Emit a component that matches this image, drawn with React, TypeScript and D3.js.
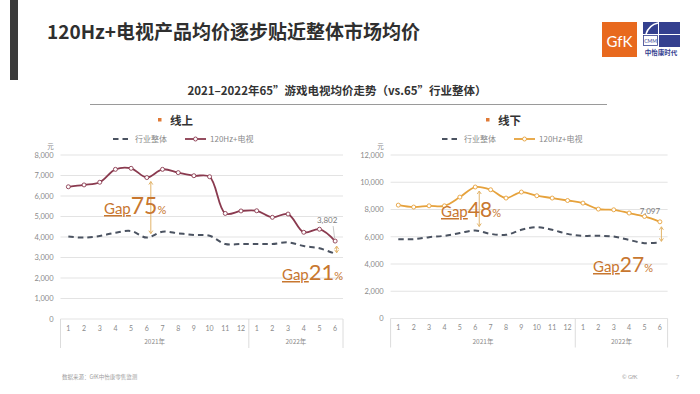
import React, { useEffect, useRef } from "react";
import * as d3 from "d3";

// months along the x axis (2021.1-12, 2022.1-6)
const months = ["1", "2", "3", "4", "5", "6", "7", "8", "9", "10", "11", "12", "1", "2", "3", "4", "5", "6"];
const years = ["2021年", "2022年"];

// 线上 (online), 元
const online120 = [6450, 6540, 6670, 7300, 7350, 6900, 7300, 7140, 6990, 6940, 5150, 5270, 5280, 4960, 5120, 4230, 4380, 3802];
const onlineAll = [4020, 3970, 4050, 4210, 4290, 3970, 4260, 4180, 4100, 4060, 3660, 3660, 3660, 3660, 3740, 3560, 3450, 3180];

// 线下 (offline), 元
const offline120 = [8320, 8180, 8270, 8270, 8910, 9650, 9450, 8840, 9280, 9010, 8840, 8660, 8470, 8030, 7980, 7740, 7490, 7097];
const offlineAll = [5820, 5820, 5970, 6070, 6270, 6460, 6210, 6140, 6510, 6710, 6510, 6210, 6070, 6070, 6010, 5770, 5530, 5590];

const gapLabels = ["75", "21", "48", "27"];

const CJK = "'Noto Sans CJK SC', 'Noto Sans', sans-serif";
const LAT = "Lato, 'Open Sans', sans-serif";
const GAP = "#c8772f";
const ARROW = "#e2b46a";

function drawPanel(svg, p) {
    const g = svg.append("g");
    const x = d3.scaleBand().domain(d3.range(months.length)).range([p.x0, p.x1]);
    const y = d3.scaleLinear().domain([0, p.max]).range([p.yb, p.yt]);
    const cx = i => x(i) + x.bandwidth() / 2;

    // grid
    const ticks = d3.range(0, p.max + 1, p.step);
    g.selectAll(".grid").data(ticks).enter().append("line")
        .attr("x1", p.x0).attr("x2", p.x1)
        .attr("y1", d => y(d)).attr("y2", d => y(d))
        .attr("stroke", "#e3e3e3").attr("stroke-width", 1);

    const yAxis = d3.axisLeft(y).tickValues(ticks).tickSize(0).tickPadding(7).tickFormat(d3.format(","));
    const ya = g.append("g").attr("transform", `translate(${p.x0},0)`).call(yAxis);
    ya.select(".domain").remove();
    ya.selectAll("text").attr("fill", "#8a8a8a").style("font-family", LAT).style("font-size", "7.5px");

    g.append("text").attr("x", p.x0 - 10).attr("y", p.yt - 6).attr("text-anchor", "middle")
        .attr("fill", "#8a8a8a").style("font-family", CJK).style("font-size", "6.5px").text("元");

    // x axis: month labels, year groups
    const xAxis = d3.axisBottom(x).tickSize(0).tickPadding(7).tickFormat(i => months[i]);
    const xa = g.append("g").attr("transform", `translate(0,${p.yb})`).call(xAxis);
    xa.select(".domain").remove();
    xa.selectAll("text").attr("fill", "#8a8a8a").style("font-family", LAT).style("font-size", "7px");

    const sep = [p.x0, x(12), p.x1];
    g.selectAll(".sep").data(sep).enter().append("line")
        .attr("x1", d => d).attr("x2", d => d)
        .attr("y1", p.yb).attr("y2", p.yb + 29)
        .attr("stroke", "#dcdcdc").attr("stroke-width", 1);
    g.selectAll(".yr").data(years).enter().append("text")
        .attr("x", (d, i) => (sep[i] + sep[i + 1]) / 2)
        .attr("y", p.yb + 25)
        .attr("text-anchor", "middle").attr("fill", "#8a8a8a")
        .style("font-family", CJK).style("font-size", "6.5px").text(d => d);

    // lines
    const line = d3.line().x((d, i) => cx(i)).y(d => y(d)).curve(d3.curveCatmullRom.alpha(0.5));
    g.append("path").attr("d", line(p.all)).attr("fill", "none")
        .attr("stroke", "#4b5361").attr("stroke-width", 2).attr("stroke-dasharray", "5.5,4");
    g.append("path").attr("d", line(p.tv)).attr("fill", "none")
        .attr("stroke", p.color).attr("stroke-width", 1.8);
    g.selectAll(".pt").data(p.tv).enter().append("circle")
        .attr("cx", (d, i) => cx(i)).attr("cy", d => y(d)).attr("r", 2)
        .attr("fill", "#fff").attr("stroke", p.color).attr("stroke-width", 0.9);

    // header + legend
    g.append("rect").attr("x", p.head - 17).attr("y", 118).attr("width", 3.5).attr("height", 3.5).attr("fill", "#e07a36");
    g.append("text").attr("x", p.head - 5).attr("y", 124.5).attr("fill", "#333")
        .style("font-family", CJK).style("font-size", "11.5px").style("font-weight", 700).text(p.title);

    g.append("line").attr("x1", p.lg).attr("x2", p.lg + 17).attr("y1", 139).attr("y2", 139)
        .attr("stroke", "#4b5361").attr("stroke-width", 2).attr("stroke-dasharray", "5.5,4");
    g.append("text").attr("x", p.lg + 22).attr("y", 142).attr("fill", "#8a8a8a")
        .style("font-family", CJK).style("font-size", "8px").text("行业整体");
    const l2 = p.lg + 72;
    g.append("line").attr("x1", l2).attr("x2", l2 + 21).attr("y1", 139).attr("y2", 139)
        .attr("stroke", p.color).attr("stroke-width", 1.8);
    g.append("circle").attr("cx", l2 + 10.5).attr("cy", 139).attr("r", 2)
        .attr("fill", "#fff").attr("stroke", p.color).attr("stroke-width", 0.9);
    g.append("text").attr("x", l2 + 25).attr("y", 142).attr("fill", "#8a8a8a")
        .style("font-family", CJK).style("font-size", "8px").text("120Hz+电视");

    // end value label
    const last = months.length - 1;
    g.append("text").attr("x", cx(last) - 8 + p.lblDx).attr("y", y(p.tv[last]) - p.lblDy)
        .attr("text-anchor", "middle").attr("fill", "#7a7a7a")
        .style("font-family", LAT).style("font-size", "8px").text(d3.format(",")(p.tv[last]));
    if (p.leader) {
        g.append("line").attr("x1", cx(last) - 2).attr("x2", cx(last) - 0.5)
            .attr("y1", y(p.tv[last]) - 15).attr("y2", y(p.tv[last]) - 2.5)
            .attr("stroke", "#b0b0b0").attr("stroke-width", 0.7);
    }

    // gap arrows
    const arrow = (ax, ya1, ya2) => {
        g.append("line").attr("x1", ax).attr("x2", ax).attr("y1", ya1).attr("y2", ya2)
            .attr("stroke", ARROW).attr("stroke-width", 1);
        [[ya1, 1], [ya2, -1]].forEach(([yy, s]) => {
            g.append("path").attr("d", `M${ax - 2},${yy + s * 3}L${ax},${yy}L${ax + 2},${yy + s * 3}`)
                .attr("fill", "none").attr("stroke", ARROW).attr("stroke-width", 1);
        });
    };
    const gx = cx(5) + 4;
    arrow(gx, y(p.tv[5]) + 4, y(p.all[5]) - 4);
    const ex = cx(last) + 1.5;
    arrow(ex, y(p.tv[last]) + 5, y(p.all[last]) - 1);

    const gapText = (tx, ty, num, big) => {
        const t = g.append("text").attr("x", tx).attr("y", ty).attr("fill", GAP).style("font-family", LAT);
        t.append("tspan").style("font-size", "15px").attr("text-decoration", "underline").text("Gap");
        t.append("tspan").style("font-size", big + "px").text(num);
        t.append("tspan").style("font-size", "11px").text("%");
    };
    gapText(p.g1[0], p.g1[1], p.gaps[0], p.g1[2]);
    gapText(p.g2[0], p.g2[1], p.gaps[1], p.g2[2]);
}

const App = () => {
    const ref = useRef(null);

    useEffect(() => {
        document.body.style.margin = "0";
        const svg = d3.select(ref.current);
        svg.selectAll("*").remove();

        // page header
        svg.append("rect").attr("x", 10).attr("y", 0).attr("width", 8).attr("height", 80).attr("fill", "#3b3b3b");
        svg.append("text").attr("x", 47).attr("y", 39).attr("fill", "#2f2f2f")
            .style("font-family", CJK).style("font-size", "19px").style("font-weight", 700)
            .text("120Hz+电视产品均价逐步贴近整体市场均价");

        // logos
        svg.append("rect").attr("x", 602).attr("y", 22).attr("width", 35).attr("height", 35).attr("fill", "#e8691e");
        svg.append("text").attr("x", 619.5).attr("y", 47).attr("text-anchor", "middle").attr("fill", "#fff")
            .style("font-family", LAT).style("font-size", "15px").text("GfK");
        const b = svg.append("g").attr("transform", "translate(643,22)");
        b.append("rect").attr("width", 15).attr("height", 12).attr("fill", "#34408f");
        b.append("path").attr("d", "M3,12 Q6,3 15,1").attr("fill", "none").attr("stroke", "#fff").attr("stroke-width", 1.5);
        b.append("rect").attr("x", 16).attr("width", 21).attr("height", 12).attr("fill", "#34408f");
        b.append("rect").attr("x", 16).attr("y", 13).attr("width", 21).attr("height", 12).attr("fill", "#34408f");
        b.append("rect").attr("x", 0.5).attr("y", 13.5).attr("width", 14).attr("height", 10).attr("fill", "#fff")
            .attr("stroke", "#34408f").attr("stroke-width", 0.8);
        b.append("text").attr("x", 7.5).attr("y", 21).attr("text-anchor", "middle").attr("fill", "#34408f")
            .style("font-family", LAT).style("font-size", "5px").text("CMM");
        b.append("text").attr("x", 18).attr("y", 33).attr("text-anchor", "middle").attr("fill", "#34408f")
            .style("font-family", CJK).style("font-size", "6.5px").style("font-weight", 700).text("中怡康时代");

        // chart title
        svg.append("text").attr("x", 337).attr("y", 95).attr("text-anchor", "middle").attr("fill", "#333")
            .style("font-family", CJK).style("font-size", "11.5px").style("font-weight", 700)
            .text("2021–2022年65\u201D游戏电视均价走势（vs.65\u201D行业整体）");
        svg.append("line").attr("x1", 90).attr("x2", 607).attr("y1", 104.5).attr("y2", 104.5)
            .attr("stroke", "#9a9a9a").attr("stroke-width", 1.2);

        drawPanel(svg, {
            x0: 60.5, x1: 343, yt: 155, yb: 319, max: 8000, step: 1000,
            tv: online120, all: onlineAll, color: "#8a3a4f", title: "线上",
            head: 175, lg: 113, leader: true, lblDx: 0, lblDy: 18,
            gaps: [gapLabels[0], gapLabels[1]], g1: [104, 214, 23], g2: [282, 280, 22]
        });
        drawPanel(svg, {
            x0: 390.6, x1: 667.6, yt: 155, yb: 318.5, max: 12000, step: 2000,
            tv: offline120, all: offlineAll, color: "#e6a23c", title: "线下",
            head: 503, lg: 442, leader: false, lblDx: -2, lblDy: 8,
            gaps: [gapLabels[2], gapLabels[3]], g1: [441, 217, 21], g2: [593, 272, 21]
        });

        // footer
        svg.append("text").attr("x", 62).attr("y", 379).attr("fill", "#a0a0a0")
            .style("font-family", CJK).style("font-size", "5.5px").text("数据来源：GfK中怡康零售监测");
        svg.append("text").attr("x", 622).attr("y", 379).attr("fill", "#a0a0a0")
            .style("font-family", LAT).style("font-size", "5.5px").text("© GfK");
        svg.append("text").attr("x", 676).attr("y", 379).attr("fill", "#a0a0a0")
            .style("font-family", LAT).style("font-size", "5.5px").text("7");
    }, []);

    return <svg ref={ref} width={700} height={394} style={{ display: "block", background: "#fff" }}></svg>;
};

export default App;
